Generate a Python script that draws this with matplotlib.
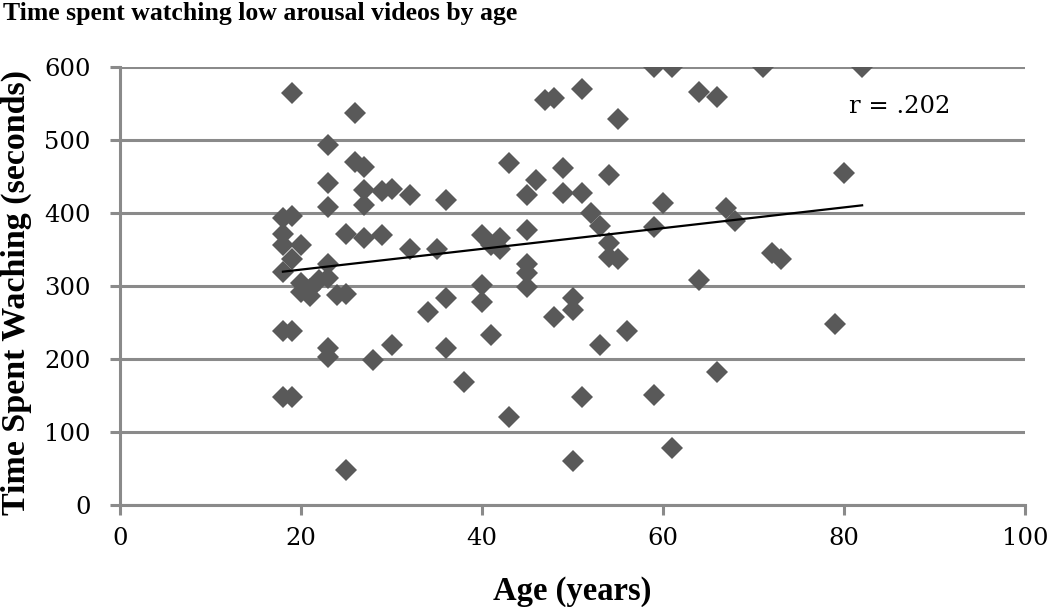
import numpy as np
import matplotlib
matplotlib.use("Agg")
import matplotlib.pyplot as plt

matplotlib.rc('font', family='DejaVu Serif', size=15)

# age (years) and time spent watching (seconds)
age = [19, 26, 23, 26, 27, 23, 27, 29, 30, 32, 23, 27, 18, 19, 18, 18, 20, 25, 27, 29,
       32, 18, 23, 19, 20, 21, 22, 23, 24, 25, 21, 20, 18, 19, 23, 23, 28, 30, 18, 19,
       25, 34, 35, 36, 36, 36, 38, 40, 40, 40, 41, 41, 42, 42, 43, 43, 45, 45, 45, 45,
       45, 46, 47, 48, 48, 49, 49, 50, 50, 50, 51, 51, 51, 52, 53, 53, 54, 54, 54, 55,
       55, 56, 59, 59, 59, 60, 61, 61, 64, 64, 66, 66, 67, 68, 71, 72, 73, 79, 80, 82]
seconds = [565, 538, 494, 471, 464, 441, 432, 430, 434, 425, 409, 412, 393, 397, 372, 356, 357, 372, 366, 370,
           351, 319, 330, 338, 304, 286, 308, 311, 288, 290, 296, 292, 238, 238, 215, 203, 199, 219, 148, 148,
           48, 265, 351, 418, 284, 215, 169, 370, 302, 278, 357, 233, 366, 351, 469, 121, 425, 377, 331, 318,
           299, 446, 555, 558, 258, 462, 428, 284, 267, 60, 570, 428, 148, 401, 383, 219, 453, 359, 340, 530,
           337, 238, 600, 381, 151, 414, 600, 78, 566, 309, 560, 182, 407, 389, 600, 346, 337, 248, 455, 600]

# linear trend line endpoints as drawn in the chart
trend_x = [18, 82]
trend_y = [320, 411]

x_ticks = [0, 20, 40, 60, 80, 100]
y_ticks = [0, 100, 200, 300, 400, 500, 600]

grid_col = '#8a8a8a'
bold_font = 'Liberation Serif'

fig = plt.figure(figsize=(10.5, 6.07), dpi=100)
ax = fig.add_axes([0.1143, 0.168, 0.8619, 0.7208])

ax.plot(age, seconds, linestyle='none', marker='D', markersize=11.2,
        color='#595959', markeredgewidth=0, zorder=3)
ax.plot(trend_x, trend_y, color='black', linewidth=1.6, zorder=4)

ax.set_xlim(0, 100)
ax.set_ylim(0, 600)
ax.set_xticks(x_ticks)
ax.set_yticks(y_ticks)

ax.grid(axis='y', color=grid_col, linewidth=2.2)
ax.set_axisbelow(True)
for s in ['top', 'right']:
  ax.spines[s].set_visible(False)
for s in ['left', 'bottom']:
  ax.spines[s].set_color(grid_col)
  ax.spines[s].set_linewidth(2.2)
ax.tick_params(axis='both', colors=grid_col, width=2.2, length=7, labelcolor='black', labelsize=17.5)
ax.tick_params(axis='y', pad=14)
ax.tick_params(axis='x', pad=9)

ax.set_xlabel('Age (years)', fontweight='bold', fontsize=23.5, family=bold_font)
ax.set_ylabel('Time Spent Waching (seconds)', fontweight='bold', fontsize=24.5, family=bold_font)
ax.xaxis.set_label_coords(0.5, -0.163)
ax.yaxis.set_label_coords(-0.097, 0.485)
ax.text(86.2, 546, 'r = .202', ha='center', va='center', fontsize=17.5)

fig.text(0.003, 0.997, 'Time spent watching low arousal videos by age', ha='left', va='top',
         fontweight='bold', fontsize=18.5, family=bold_font)

plt.savefig('out.png', dpi=100)
